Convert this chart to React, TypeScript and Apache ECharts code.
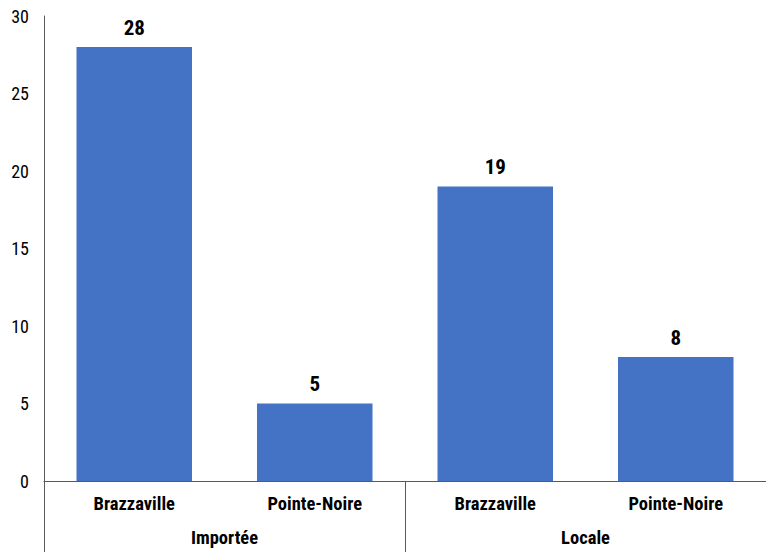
import React, { useEffect, useRef } from "react";
import * as echarts from "echarts";

const cities = ["Brazzaville", "Pointe-Noire", "Brazzaville", "Pointe-Noire"];
const groups = ["Importée", "Locale"];
const values = [28, 5, 19, 8];
const yTicks = [0, 5, 10, 15, 20, 25, 30];

const FONT = "'Liberation Sans Narrow', 'Arial Narrow', 'Roboto Condensed', sans-serif";

export default function App() {
  const ref = useRef<HTMLDivElement>(null);
  useEffect(() => {
    if (!ref.current) return;
    const chart = echarts.init(ref.current, undefined, { renderer: "svg" });
    chart.setOption({
      animation: false,
      grid: { left: 44, width: 724, top: 16, height: 465, containLabel: false },
      xAxis: [
        {
          type: "category",
          data: cities,
          position: "bottom",
          axisLine: { show: true, lineStyle: { color: "#595959", width: 1 } },
          axisTick: { show: false },
          axisLabel: {
            color: "#000",
            fontFamily: FONT,
            fontWeight: "bold",
            fontSize: 18.5,
            margin: 13,
            interval: 0,
          },
        },
        {
          type: "category",
          data: groups,
          position: "bottom",
          axisLine: { show: false },
          axisTick: {
            show: true,
            length: 71,
            inside: false,
            lineStyle: { color: "#595959", width: 1 },
          },
          axisLabel: {
            color: "#000",
            fontFamily: FONT,
            fontWeight: "bold",
            fontSize: 18.5,
            margin: 47,
            interval: 0,
          },
        },
      ],
      yAxis: {
        type: "value",
        min: yTicks[0],
        max: yTicks[yTicks.length - 1],
        interval: 5,
        axisLine: { show: true, lineStyle: { color: "#595959", width: 1 } },
        axisTick: { show: false },
        splitLine: { show: false },
        axisLabel: {
          color: "#000",
          fontFamily: FONT,
          fontSize: 18,
          margin: 15,
        },
      },
      series: [
        {
          type: "bar",
          xAxisIndex: 0,
          data: values,
          barWidth: "64%",
          itemStyle: { color: "#4472C4" },
          label: {
            show: true,
            position: "top",
            distance: 9,
            color: "#000",
            fontFamily: FONT,
            fontWeight: "bold",
            fontSize: 21,
          },
        },
      ],
    });
    return () => chart.dispose();
  }, []);
  return (
    <div
      ref={ref}
      style={{ position: "absolute", left: 0, top: 0, width: 766, height: 552, background: "#fff" }}
    />
  );
}
